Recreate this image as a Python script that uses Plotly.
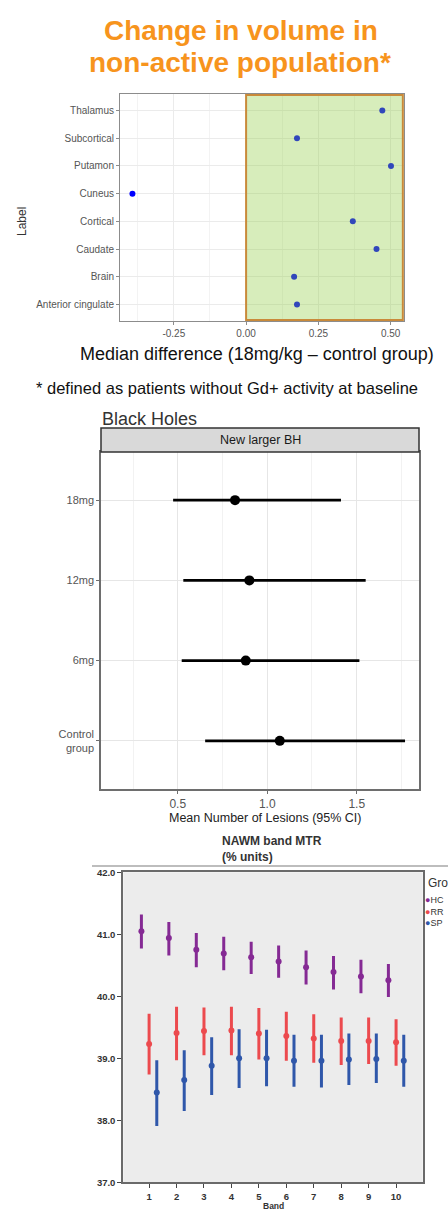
import plotly.graph_objects as go

W, H = 448, 1212
def X(px): return px / W
def Y(py): return 1 - py / H

# ---------- Panel 1 data ----------
regions = ["Anterior cingulate", "Brain", "Caudate", "Cortical", "Cuneus", "Putamon", "Subcortical", "Thalamus"]
median_diff = [0.176, 0.166, 0.451, 0.369, -0.393, 0.501, 0.176, 0.471]

# ---------- Panel 2 data ----------
doses = ["Control<br>group", "6mg", "12mg", "18mg"]
mean_lesions = [1.07, 0.88, 0.90, 0.82]
ci_low = [0.653, 0.522, 0.531, 0.474]
ci_high = [1.77, 1.515, 1.55, 1.412]

# ---------- Panel 3 data ----------
bands = [1, 2, 3, 4, 5, 6, 7, 8, 9, 10]
hc_mean = [41.05, 40.94, 40.75, 40.69, 40.63, 40.56, 40.47, 40.39, 40.32, 40.26]
hc_low = [40.77, 40.66, 40.47, 40.42, 40.36, 40.30, 40.19, 40.11, 40.05, 39.99]
hc_high = [41.32, 41.20, 41.02, 40.96, 40.88, 40.82, 40.74, 40.65, 40.59, 40.52]
rr_mean = [39.23, 39.41, 39.44, 39.45, 39.40, 39.36, 39.32, 39.28, 39.28, 39.26]
rr_low = [38.74, 38.97, 39.05, 39.05, 38.98, 38.96, 38.93, 38.89, 38.91, 38.88]
rr_high = [39.72, 39.83, 39.82, 39.83, 39.81, 39.75, 39.71, 39.66, 39.66, 39.63]
sp_mean = [38.45, 38.65, 38.88, 39.00, 39.00, 38.96, 38.96, 38.98, 38.99, 38.96]
sp_low = [37.91, 38.15, 38.41, 38.52, 38.55, 38.54, 38.53, 38.57, 38.60, 38.54]
sp_high = [38.97, 39.13, 39.34, 39.47, 39.46, 39.38, 39.38, 39.40, 39.40, 39.38]
y3_ticks = [37, 38, 39, 40, 41, 42]
group_labels = ["HC", "RR", "SP"]

fig = go.Figure()

# Panel 1
fig.add_trace(go.Scatter(x=median_diff, y=regions, mode="markers",
                         marker=dict(color="#0000ff", size=6), xaxis="x", yaxis="y",
                         showlegend=False, hoverinfo="skip"))

# Panel 2
fig.add_trace(go.Scatter(x=mean_lesions, y=doses, mode="markers",
                         marker=dict(color="black", size=10),
                         error_x=dict(type="data", symmetric=False,
                                      array=[h - m for h, m in zip(ci_high, mean_lesions)],
                                      arrayminus=[m - l for m, l in zip(mean_lesions, ci_low)],
                                      color="black", thickness=2.6, width=0),
                         xaxis="x2", yaxis="y2", showlegend=False, hoverinfo="skip"))

# Panel 3
groups = [(group_labels[0], hc_mean, hc_low, hc_high, "#852a94", -0.28),
          (group_labels[1], rr_mean, rr_low, rr_high, "#ec4a4e", 0.0),
          (group_labels[2], sp_mean, sp_low, sp_high, "#2f57aa", 0.28)]
for name, m, lo, hi, col, off in groups:
    fig.add_trace(go.Scatter(x=[b + off for b in bands], y=m, mode="markers", name=name,
                             marker=dict(color=col, size=6),
                             error_y=dict(type="data", symmetric=False,
                                          array=[h - v for h, v in zip(hi, m)],
                                          arrayminus=[v - l for v, l in zip(m, lo)],
                                          color=col, thickness=3, width=0),
                             xaxis="x3", yaxis="y3", showlegend=False, hoverinfo="skip"))

ff = "Liberation Sans, Arial, sans-serif"
tickfont_gray = dict(family=ff, size=10, color="#555555")

fig.update_layout(
    width=W, height=H, margin=dict(l=0, r=0, t=0, b=0, autoexpand=False),
    paper_bgcolor="white", plot_bgcolor="white",
    font=dict(family=ff),
    xaxis=dict(domain=[X(120), X(404)], anchor="y", range=[-0.436, 0.546],
               tickvals=[-0.25, 0, 0.25, 0.5], ticktext=["-0.25", "0.00", "0.25", "0.50"],
               showgrid=True, gridcolor="#ebebeb", gridwidth=1,
               minor=dict(dtick=0.125, tick0=0, showgrid=True, gridcolor="#f3f3f3", ticklen=0),
               zeroline=False, showline=True, mirror=True, linecolor="#8c8c8c", linewidth=1,
               ticks="outside", ticklen=3, tickcolor="#8c8c8c", tickfont=tickfont_gray),
    yaxis=dict(domain=[Y(321), Y(94)], anchor="x", type="category",
               categoryorder="array", categoryarray=regions, range=[-0.6, 7.6],
               showgrid=True, gridcolor="#ebebeb", zeroline=False,
               showline=True, mirror=True, linecolor="#8c8c8c", linewidth=1,
               ticks="outside", ticklen=3, tickcolor="#8c8c8c", tickfont=tickfont_gray),
    xaxis2=dict(domain=[X(101), X(419)], anchor="y2", range=[0.071, 1.848],
                tickvals=[0.5, 1.0, 1.5], ticktext=["0.5", "1.0", "1.5"],
                showgrid=True, gridcolor="#e6e6e6",
                minor=dict(dtick=0.25, tick0=0, showgrid=True, gridcolor="#f2f2f2", ticklen=0),
                zeroline=False, showline=True, mirror=True, linecolor="#6e6e6e", linewidth=1.5,
                ticks="outside", ticklen=3, tickcolor="#6e6e6e",
                tickfont=dict(family=ff, size=12, color="#555555")),
    yaxis2=dict(domain=[Y(789), Y(452)], anchor="x2", type="category",
                categoryorder="array", categoryarray=doses, range=[-0.6, 3.6],
                showgrid=True, gridcolor="#e6e6e6", zeroline=False,
                showline=True, mirror=True, linecolor="#6e6e6e", linewidth=1.5,
                ticks="outside", ticklen=3, tickcolor="#6e6e6e",
                tickfont=dict(family=ff, size=11, color="#555555")),
    xaxis3=dict(domain=[X(123.3), X(422.7)], anchor="y3", range=[0.06, 10.97],
                tickvals=bands, ticktext=[f"<b>{b}</b>" for b in bands],
                showgrid=False, zeroline=False, showline=True, mirror=True,
                linecolor="#6a6a6a", linewidth=2, ticks="outside", ticklen=4, tickcolor="#444444",
                ticklabelstandoff=0,
                tickfont=dict(family=ff, size=9.5, color="#333333")),
    yaxis3=dict(domain=[Y(1182.3), Y(872.3)], anchor="x3", range=[37, 42],
                tickvals=y3_ticks, ticktext=[f"<b>{v:.1f}</b>" for v in y3_ticks],
                showgrid=False, zeroline=False, showline=True, mirror=True,
                linecolor="#6a6a6a", linewidth=2, ticks="outside", ticklen=4, tickcolor="#444444",
                tickfont=dict(family=ff, size=9.5, color="#333333")),
)

shapes = []
shapes.append(dict(type="rect", xref="x3 domain", yref="y3 domain", x0=0, x1=1, y0=0, y1=1,
                   fillcolor="#ececec", line=dict(width=0), layer="below"))
shapes.append(dict(type="rect", xref="x", yref="y domain", x0=0, x1=0.542, y0=0.004, y1=0.996,
                   fillcolor="rgba(141,204,61,0.35)", line=dict(color="#c98a3a", width=2), layer="above"))
shapes.append(dict(type="rect", xref="paper", yref="paper", x0=X(101), x1=X(419), y0=Y(452), y1=Y(428),
                   fillcolor="#d9d9d9", line=dict(color="#333333", width=1.5)))
shapes.append(dict(type="line", xref="paper", yref="paper", x0=X(92), x1=1, y0=Y(866), y1=Y(866),
                   line=dict(color="#bdbdbd", width=2)))
fig.update_layout(shapes=shapes)

ann = []
def add(text, px, py, size, color, xanchor="center", yanchor="middle", **kw):
    ann.append(dict(text=text, x=X(px), y=Y(py), xref="paper", yref="paper", showarrow=False,
                    xanchor=xanchor, yanchor=yanchor, font=dict(family=ff, size=size, color=color), **kw))

add("<b>Change in volume in</b>", 241, 30, 28, "#f7941d")
add("<b>non-active population*</b>", 240, 62, 28, "#f7941d")
add("Label", 22, 222, 12, "#333333", textangle=-90)
add("Median difference (18mg/kg \u2013 control group)", 78, 354, 18, "#111111", xanchor="left")
add("* defined as patients without Gd+ activity at baseline", 34, 388, 16.5, "#111111", xanchor="left")
add("Black Holes", 100, 419, 18, "#333333", xanchor="left")
add("New larger BH", 260, 440, 12.5, "#1a1a1a")
add("Mean Number of Lesions (95% CI)", 265, 818, 12.5, "#222222")
add("<b>NAWM band MTR<br>(% units)</b>", 220, 849, 12, "#333333", xanchor="left", align="left")
add("<b>Band</b>", 273, 1212, 8.5, "#333333", yanchor="bottom", borderpad=0)
# Legend as visible in the reference (clipped at the right edge)
add("Gro", 426, 883, 12, "#333333", xanchor="left")
legend_lines = "<br>".join(f'<span style="color:{col}">\u25cf</span>{name}'
                           for name, m, lo, hi, col, off in groups)
add(legend_lines, 423, 911, 9, "#333333", xanchor="left", align="left")
fig.update_layout(annotations=ann)

fig.write_html("out.html", config={"displayModeBar": False},
               post_script="document.body.style.margin='0';document.body.style.overflow='hidden';")
